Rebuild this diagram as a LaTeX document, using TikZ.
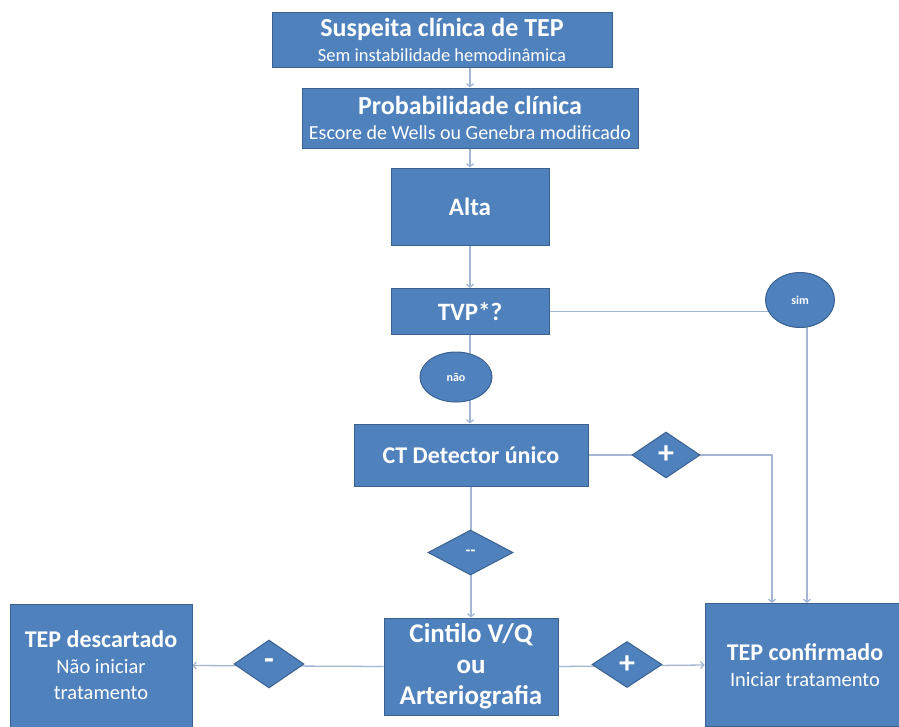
\documentclass[tikz,border=0pt]{standalone}
\usepackage{fontspec}
\setmainfont{Carlito}
\usetikzlibrary{arrows.meta, positioning, shapes.geometric, backgrounds}

\definecolor{boxblue}{HTML}{4F81BD}
\definecolor{boxline}{HTML}{3A6190}
\definecolor{linkblue}{HTML}{A3B6D2}

\begin{document}
\begin{tikzpicture}[
  x=1pt, y=-1pt,
  >={Straight Barb[length=3pt,width=7pt]},
  block/.style={
    rectangle, draw=boxline, fill=boxblue,
    line width=1pt, text=white, align=center,
    inner sep=1pt, font=\bfseries
  },
  title/.style={block, font=\fontsize{26}{27}\selectfont\bfseries},
  mid/.style={block, font=\fontsize{25}{30}\selectfont\bfseries},
  endbox/.style={block, font=\fontsize{24}{26}\selectfont\bfseries},
  answer/.style={ellipse, draw=boxline, fill=boxblue, line width=1pt,
    text=white, inner sep=0pt, font=\fontsize{12}{13}\selectfont\bfseries},
  sign/.style={diamond, draw=boxline, fill=boxblue, line width=1pt,
    text=white, inner sep=0pt, font=\fontsize{32}{32}\selectfont\bfseries},
  link/.style={draw=linkblue, line width=1.3pt},
]
\useasboundingbox (0,0) rectangle (899,726);

% --- main column ---
\node[title, minimum width=340pt, minimum height=55pt] (SUSP) at (442,39.5)
  {Suspeita clínica de TEP\\[-2pt]{\fontsize{18.5}{19}\selectfont\mdseries Sem instabilidade hemodinâmica}};
\node[title, minimum width=336pt, minimum height=60pt] (PROB) at (470,118)
  {Probabilidade clínica\\[-2pt]{\fontsize{20}{20}\selectfont\mdseries Escore de Wells ou Genebra modificado}};
\node[mid, minimum width=158pt, minimum height=77pt] (ALTA) at (470,206.5) {Alta};
\node[mid, minimum width=158pt, minimum height=46pt] (TVP) at (470,311.5) {TVP*?};

% --- answers ---
\node[answer, minimum width=69pt, minimum height=55pt] (SIM) at (800,300) {sim};
\node[answer, minimum width=72pt, minimum height=50pt] (NAO) at (456,377) {não};

% --- CT and its results ---
\node[mid, minimum width=234pt, minimum height=62pt, font=\fontsize{24}{28}\selectfont\bfseries]
  (CT) at (471,455) {CT Detector único};
\node[sign, minimum width=68pt, minimum height=46pt] (CTPOS) at (666,455) {+};
\node[sign, minimum width=85pt, minimum height=45pt] (CTNEG) at (470.5,552.5)
  {\fontsize{16}{16}\selectfont -{}-};

% --- bottom row ---
\node[mid, minimum width=174pt, minimum height=97pt, font=\fontsize{27}{31}\selectfont\bfseries]
  (CINT) at (471,666.5) {Cintilo V/Q\\ou\\Arteriografia};
\node[sign, minimum width=70pt, minimum height=48pt] (VQNEG) at (269,664) {-};
\node[sign, minimum width=70pt, minimum height=46pt] (VQPOS) at (627,664.5) {+};
\node[endbox, minimum width=182pt, minimum height=123pt] (DESC) at (101,665.5)
  {TEP descartado\\{\fontsize{20.5}{25}\selectfont\mdseries Não iniciar}\\{\fontsize{20.5}{25}\selectfont\mdseries tratamento}};
\node[endbox, minimum width=200pt, minimum height=123pt] (CONF) at (805,665)
  {TEP confirmado\\{\fontsize{20.5}{24}\selectfont\mdseries Iniciar tratamento}};

\coordinate (SIMDROP) at (807,300);
\coordinate (PLUSTURN) at (772,455);

% --- connectors, under the shapes ---
\begin{scope}[on background layer]
\draw[link, ->] (SUSP.south -| PROB.north) -- (PROB.north);
\draw[link, ->] (PROB) -- (ALTA);
\draw[link, ->] (ALTA) -- (TVP);
\draw[link, ->] (TVP.south) -- (TVP.south |- CT.north);
\draw[link] (TVP.east) -- (TVP.east -| SIM);
\draw[link, ->] (SIMDROP) -- (SIMDROP |- CONF.north);
\draw[link, ->] (CT.east) -- (PLUSTURN) -- (PLUSTURN |- CONF.north);
\draw[link, ->] (CT.south) -- (CT.south |- CINT.north);
\draw[link, ->] (CINT.west) -- (DESC.east);
\draw[link, ->] (CINT.east) -- (CONF.west);
\end{scope}

\end{tikzpicture}
\end{document}
